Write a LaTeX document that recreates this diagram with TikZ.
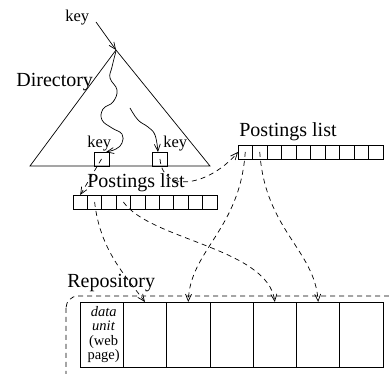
\documentclass[tikz,border=0pt]{standalone}
\usepackage{fontspec}
\setmainfont{Liberation Serif}
\usetikzlibrary{arrows.meta}
\begin{document}
\begin{tikzpicture}[x=1pt,y=-1pt,line width=0.7pt,
  lbl/.style={font=\fontsize{20}{22}\selectfont, inner sep=0pt, anchor=base west},
  keylbl/.style={font=\fontsize{16.5}{18}\selectfont, inner sep=0pt, anchor=base west},
  tip/.style={-{Straight Barb[length=7pt,width=6pt]}},
  dsh/.style={dash pattern=on 5pt off 4pt},
  cellu/.style={draw, minimum width=14.5pt, minimum height=14pt, inner sep=0pt, outer sep=0pt},
  celll/.style={draw, minimum width=14.4pt, minimum height=14pt, inner sep=0pt, outer sep=0pt},
  cellr/.style={draw, line width=0.8pt, minimum width=43.3pt, minimum height=65pt, inner sep=0pt, outer sep=0pt},
  kbox/.style={draw, minimum width=15pt, minimum height=14pt, inner sep=0pt, outer sep=0pt}]
\useasboundingbox (0,0) rectangle (389,374);
\clip (0,0) rectangle (389,374);

% Directory triangle
\coordinate (apex) at (116,50);
\coordinate (bl) at (30,166);
\coordinate (br) at (210,166);
\draw (apex) -- (bl) -- (br) -- cycle;
\node[lbl] (dir) at (16,87) {Directory};

% top key
\node[keylbl] (keytop) at (65,22) {key};
\draw[tip] (96,22) -- (apex);

% key boxes
\node[kbox] (k1) at (101.5,159) {};
\node[kbox] (k2) at (160,159) {};
\node[keylbl] (key1) at (87,148) {key};
\node[keylbl] (key2) at (163,148) {key};

% wavy search paths
\draw[tip] plot[smooth, tension=0.7] coordinates {(116,51) (112,67) (110,78) (117,90) (113,102) (103,109) (102,120) (112,128) (122,134) (122,143) (116,149) (106,152)};
\draw[tip] plot[smooth, tension=0.7] coordinates {(130,108) (138,120) (148,127) (155,135) (158,152)};

% Postings lists
\node[lbl] (pl1) at (239,137) {Postings list};
\foreach \i in {1,...,10} {
  \node[cellu] (u\i) at ({238+14.5*(\i-0.5)},152) {};
}
\node[lbl] (pl2) at (87,188) {Postings list};
\foreach \i in {1,...,10} {
  \node[celll] (l\i) at ({73+14.4*(\i-0.5)},202) {};
}

% pointers from key boxes
\draw[dsh,tip] (k1.center) -- (l1.north);
\draw[dsh,tip] (k2.center) .. controls (163,195) and (210,185) .. (u1.west);

% Repository
\node[lbl] (repo) at (67,288) {Repository};
\draw[dsh, rounded corners=12pt] (66,296) rectangle (430,400);
\foreach \i in {1,...,7} {
  \node[cellr] (r\i) at ({80+43.3*(\i-0.5)},334.5) {};
}
\node[font=\fontsize{14.5}{14.5}\selectfont, align=center, inner sep=0pt] (du) at ([xshift=2pt]r1.center)
  {\textit{data}\\\textit{unit}\\(web\\page)};

% postings to repository
\draw[dsh,tip] (l2.center) .. controls (100,250) and (125,275) .. (r2.north);
\draw[dsh,tip] (l4.center) .. controls (150,240) and (268,248) .. (r5.north);
\draw[dsh,tip] (u1.center) .. controls (240,230) and (190,250) .. (r3.north);
\draw[dsh,tip] (u2.center) .. controls (265,230) and (315,250) .. (r6.north);
\end{tikzpicture}
\end{document}
